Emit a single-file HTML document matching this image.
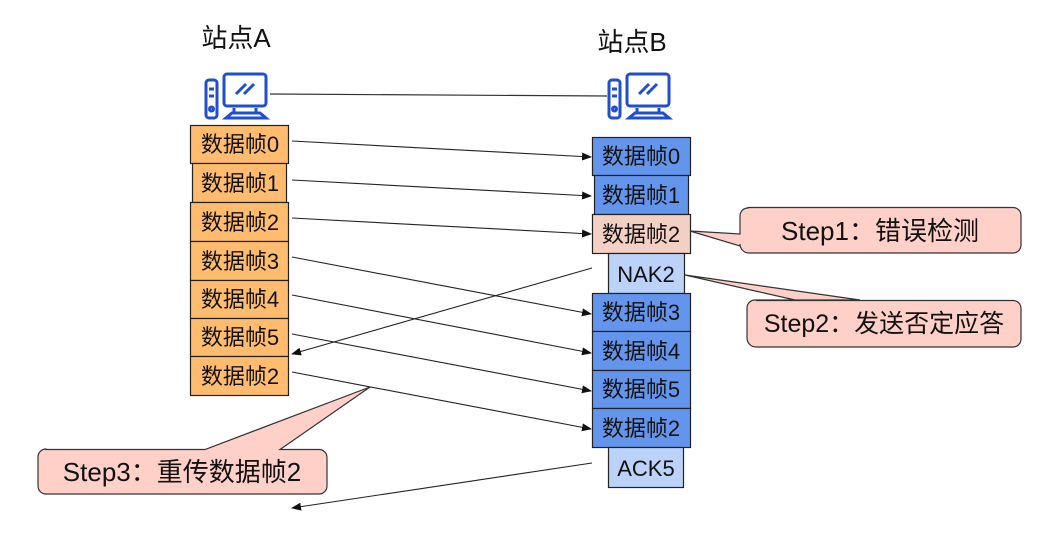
<!DOCTYPE html>
<html><head><meta charset="utf-8"><style>
body{margin:0;background:#fff;width:1054px;height:545px;overflow:hidden}
svg text{font-family:"Liberation Sans","Noto Sans CJK SC",sans-serif;font-size:22px;fill:#111;text-anchor:middle}
</style></head><body>
<svg width="1054" height="545" viewBox="0 0 1054 545">
<defs><marker id="a" markerWidth="10" markerHeight="8" refX="9" refY="4" orient="auto" markerUnits="userSpaceOnUse"><path d="M0,0L10,4L0,8z" fill="#111"/></marker>
<g id="pc" fill="none" stroke="#1f4fcf" stroke-width="3">
<rect x="2" y="8" width="11" height="38" rx="3"/><line x1="5" y1="17" x2="10" y2="17"/><line x1="5" y1="24" x2="10" y2="24"/><circle cx="7.5" cy="37" r="2"/>
<rect x="20" y="2" width="42" height="32" rx="3"/><line x1="32" y1="22" x2="42" y2="12"/><line x1="40" y1="22" x2="50" y2="12"/>
<path d="M30 36v5M52 36v5M22 46h40l-6-5H28z"/></g></defs>
<text x="236" y="47" style="font-size:26px">站点A</text>
<text x="632" y="51" style="font-size:26px">站点B</text>
<use href="#pc" x="204" y="72"/><use href="#pc" x="607" y="72"/>
<line x1="270" y1="94" x2="607" y2="96" stroke="#333" stroke-width="1.2"/>
<g stroke="#222" stroke-width="1.2">
<rect x="190.5" y="125.5" width="98" height="38" fill="#ffbc6e"/>
<rect x="192.5" y="163.5" width="94" height="39" fill="#ffbc6e"/>
<rect x="190.5" y="202.5" width="98" height="39" fill="#ffbc6e"/>
<rect x="190.5" y="241.5" width="98" height="39" fill="#ffbc6e"/>
<rect x="190.5" y="280.5" width="98" height="38" fill="#ffbc6e"/>
<rect x="190.5" y="318.5" width="98" height="38" fill="#ffbc6e"/>
<rect x="190.5" y="356.5" width="98" height="39" fill="#ffbc6e"/>
<rect x="592.5" y="137.5" width="98" height="38" fill="#6495ed"/>
<rect x="594.5" y="175.5" width="94" height="39" fill="#6495ed"/>
<rect x="592.5" y="214.5" width="98" height="39" fill="#f4cfc4"/>
<rect x="608.5" y="253.5" width="76" height="40" fill="#bcd2f8"/>
<rect x="592.5" y="293.5" width="98" height="38" fill="#6495ed"/>
<rect x="592.5" y="331.5" width="98" height="39" fill="#6495ed"/>
<rect x="592.5" y="370.5" width="98" height="38" fill="#6495ed"/>
<rect x="592.5" y="408.5" width="98" height="39" fill="#6495ed"/>
<rect x="608.5" y="447.5" width="75" height="40" fill="#bcd2f8"/>
</g>
<g>
<text x="240" y="152">数据帧0</text><text x="240" y="191">数据帧1</text><text x="240" y="230">数据帧2</text>
<text x="240" y="269">数据帧3</text><text x="240" y="307">数据帧4</text><text x="240" y="345">数据帧5</text><text x="240" y="384">数据帧2</text>
<text x="641" y="164">数据帧0</text><text x="641" y="203">数据帧1</text><text x="641" y="242">数据帧2</text>
<text x="646" y="282">NAK2</text>
<text x="641" y="320">数据帧3</text><text x="641" y="359">数据帧4</text><text x="641" y="397">数据帧5</text><text x="641" y="436">数据帧2</text>
<text x="646" y="476">ACK5</text>
</g>
<g stroke="#222" stroke-width="1.1" marker-end="url(#a)">
<line x1="292" y1="141" x2="591" y2="157"/>
<line x1="292" y1="180" x2="591" y2="196"/>
<line x1="292" y1="218" x2="591" y2="234"/>
<line x1="292" y1="257" x2="591" y2="314"/>
<line x1="292" y1="295" x2="591" y2="353"/>
<line x1="292" y1="334" x2="591" y2="391"/>
<line x1="292" y1="372" x2="591" y2="429"/>
<line x1="592" y1="268" x2="292" y2="354"/>
<line x1="592" y1="463" x2="292" y2="508"/>
</g>
<g fill="#ffd0c8" stroke="#333" stroke-width="1.2">
<path d="M748,207.5H1013a8,8 0 0 1 8,8V245a8,8 0 0 1 -8,8H749a9,9 0 0 1 -9,-9V246L690,231L740,234V216a8,8 0 0 1 8,-8z"/>
<path d="M756,300.5H1013a8,8 0 0 1 8,8V339a8,8 0 0 1 -8,8H756a9,9 0 0 1 -9,-9V308a8,8 0 0 1 8,-8H860L685,275L795,300z"/>
<path d="M46,449.5H205L370,387L280,449.5H319a8,8 0 0 1 8,8V486a8,8 0 0 1 -8,8H46a8,8 0 0 1 -8,-8V457a8,8 0 0 1 8,-8z"/>
</g>
<text x="880" y="240" style="font-size:26px">Step1：错误检测</text>
<text x="884" y="332" style="font-size:25px">Step2：发送否定应答</text>
<text x="182" y="481" style="font-size:26px">Step3：重传数据帧2</text>
</svg>
</body></html>
